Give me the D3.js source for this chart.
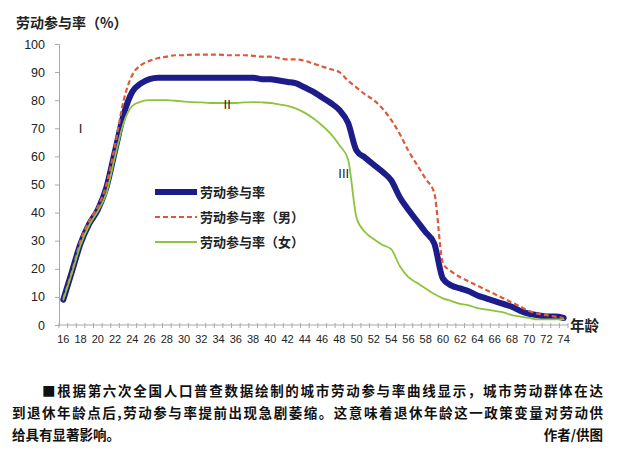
<!DOCTYPE html>
<html><head><meta charset="utf-8">
<script src="https://cdn.jsdelivr.net/npm/d3@7"></script>
<style>
html,body{margin:0;padding:0;background:#fff;}
svg{display:block;}
text{font-family:"Noto Sans CJK SC","Noto Sans",sans-serif;}
</style></head>
<body>
<svg id="c" width="619" height="456"></svg>
<script>
const ages = [16,17,18,19,20,21,22,23,24,25,26,27,28,29,30,31,32,33,34,35,36,37,38,39,40,41,42,43,44,45,46,47,48,49,50,51,52,53,54,55,56,57,58,59,60,61,62,63,64,65,66,67,68,69,70,71,72,73,74];
const totalRate = [9,19,29,36,41,49,62,75,83,86,87.5,88,88,88,88,88,88,88,88,88,88,88,88,87.5,87.5,87,86.5,86,84.5,83,81,79,76.5,72,62,59.5,57,54.5,51.5,45.5,41,37,33,29,16.5,14,13,12,10.5,9.5,8.5,7.5,6.5,5,4,3.5,3,3,2.5];
const maleRate = [9.5,19,30,37,42,50,64,80,89,92.5,94,95,95.5,96,96,96.2,96.2,96.2,96.2,96,96,96,95.8,95.5,95.5,95,94.5,94.5,94,93,92,91,90,87,84.5,82,80,77,73,68,62,57,52,47,22,19,17,15.5,14,12.5,11,9.5,8,6.5,5,4,3.5,3,2.5];
const femaleRate = [9,18.5,28.5,35.5,40.5,47,60,72,78,79.5,80,80,80,79.8,79.5,79.3,79.2,79,79,79,79,79.2,79.3,79.2,79,78.5,78,77,75.5,73.5,71,68,64,59,38,33,30.5,28.5,27,21,17,15,13,11,9.5,8.5,7.5,7,6,5.5,5,4.5,3.5,3,2.5,2,2,2,2];
const yTicks = [0,10,20,30,40,50,60,70,80,90,100];
const xLabels = [16,18,20,22,24,26,28,30,32,34,36,38,40,42,44,46,48,50,52,54,56,58,60,62,64,66,68,70,72,74];
const seriesNames = ["劳动参与率","劳动参与率（男）","劳动参与率（女）"];
const phaseLabels = [{t:"I", age:18, v:70},{t:"II", age:35, v:78.5},{t:"III", age:48.5, v:54}];
const captionLines = [
  "■根据第六次全国人口普查数据绘制的城市劳动参与率曲线显示，城市劳动群体在达",
  "到退休年龄点后,劳动参与率提前出现急剧萎缩。这意味着退休年龄这一政策变量对劳动供",
  "给具有显著影响。"
];
const credit = "作者/供图";
const yTitle = "劳动参与率（%）";
const xTitle = "年龄";

const svg = d3.select("#c");
const x = d3.scaleBand().domain(ages).range([59, 568]).padding(0);
const cx = a => x(a) + x.bandwidth()/2;
const y = d3.scaleLinear().domain([0,100]).range([325, 44]);
const axisColor = "#a8a8a8";

// y axis
const ya = svg.append("g").attr("transform", `translate(${x.range()[0]},0)`)
  .call(d3.axisLeft(y).tickValues(yTicks).tickSize(4).tickPadding(10).tickFormat(d3.format("d")));
ya.select(".domain").attr("stroke", axisColor);
ya.selectAll(".tick line").attr("stroke", axisColor);
ya.selectAll(".tick text").attr("fill","#222").style("font-size","12.5px").style("font-family","Arial, 'Liberation Sans', sans-serif");

// x axis
const xa = svg.append("g").attr("transform", `translate(0,${y(0)})`);
xa.append("line").attr("x1", x.range()[0]).attr("x2", x.range()[1]).attr("stroke", axisColor);
const bounds = ages.map(a => x(a)).concat([x.range()[1]]);
xa.selectAll("line.tk").data(bounds).join("line").attr("class","tk")
  .attr("x1", d=>d).attr("x2", d=>d).attr("y1",-2).attr("y2",3).attr("stroke", axisColor);
xa.selectAll("text.xl").data(xLabels).join("text").attr("class","xl")
  .attr("x", d=>cx(d)).attr("y", 18).attr("text-anchor","middle")
  .attr("fill","#222").style("font-size","11px").style("font-family","Arial, 'Liberation Sans', sans-serif")
  .text(d=>d);

svg.append("text").attr("x", 570).attr("y", y(0)+6).attr("fill","#222")
  .style("font-size","14.5px").style("font-weight","bold").text(xTitle);
svg.append("text").attr("x", 16).attr("y", 28).attr("fill","#222")
  .style("font-size","14px").style("font-weight","bold").text(yTitle);

// lines
const line = vals => d3.line().x((d,i)=>cx(ages[i])).y(d=>y(d)).curve(d3.curveMonotoneX)(vals);
const styles = [
  {vals: totalRate, color:"#1c1c8a", w:6, dash:null},
  {vals: maleRate, color:"#dc5a3c", w:2.2, dash:"5,3"},
  {vals: femaleRate, color:"#8cc43c", w:1.8, dash:null}
];
styles.forEach(s => {
  svg.append("path").attr("d", line(s.vals)).attr("fill","none")
    .attr("stroke", s.color).attr("stroke-width", s.w)
    .attr("stroke-dasharray", s.dash).attr("stroke-linejoin","round").attr("stroke-linecap", s.dash?"butt":"round");
});

// phase labels
phaseLabels.forEach(p => {
  svg.append("text").attr("x", cx(16) + (p.age-16)*x.bandwidth()).attr("y", y(p.v)+5)
    .attr("text-anchor","middle").attr("fill","#222")
    .style("font-size","13px").style("font-family","'Liberation Sans',Arial,sans-serif").text(p.t);
});

// legend
const lg = svg.append("g");
styles.forEach((s,i) => {
  const ly = 192 + i*25;
  lg.append("line").attr("x1",155).attr("x2",197).attr("y1",ly).attr("y2",ly)
    .attr("stroke", s.color).attr("stroke-width", s.w).attr("stroke-dasharray", s.dash);
  lg.append("text").attr("x",200).attr("y",ly+5).attr("fill","#222")
    .style("font-size","13px").style("font-weight","bold").text(seriesNames[i]);
});

// caption
const capY = [396, 418, 440];
const capX0 = [42, 12, 12];
const capX1 = [603, 603, null];
captionLines.forEach((t,i) => {
  const tx = svg.append("text").attr("x", capX0[i]).attr("y", capY[i]).attr("fill","#111")
    .style("font-size","13.5px").style("font-weight","bold").text(t);
  if (capX1[i]) tx.attr("textLength", capX1[i]-capX0[i]).attr("lengthAdjust","spacing");
});
svg.append("text").attr("x", 603).attr("y", capY[2]).attr("text-anchor","end").attr("fill","#111")
  .style("font-size","13.5px").style("font-weight","bold").text(credit);
</script>
</body></html>
